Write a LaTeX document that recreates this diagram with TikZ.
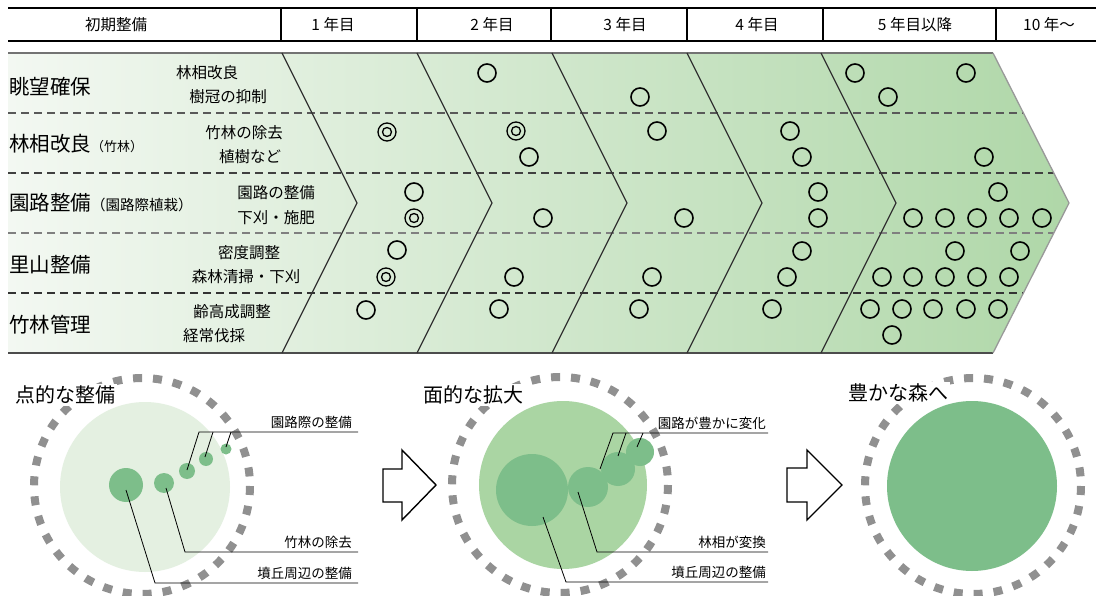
\documentclass[tikz,border=0pt]{standalone}
\usepackage{fontspec}
\setmainfont{Noto Sans CJK JP}
\usetikzlibrary{calc}
\definecolor{gL}{HTML}{F3F8F2}
\definecolor{gR}{HTML}{AFD7A8}
\definecolor{dotg}{HTML}{7DBE8A}
\definecolor{lightg}{HTML}{E4F0E1}
\definecolor{midg}{HTML}{AAD5A3}
\definecolor{dgray}{HTML}{909090}
\tikzset{
  hdr/.style={font=\fontsize{15.5}{18}\selectfont, inner sep=0pt},
  mainlbl/.style={font=\fontsize{20.5}{24}\selectfont, anchor=west, inner sep=0pt},
  sublbl/.style={font=\fontsize{15.5}{18}\selectfont, inner sep=0pt},
  title/.style={font=\fontsize{20}{24}\selectfont, anchor=west, inner sep=2pt, fill=white},
  note/.style={font=\fontsize{13.5}{16}\selectfont, anchor=south east, inner sep=0pt},
  ring/.style={draw=black, line width=1.6pt},
  chev/.style={draw=black!80, line width=1.3pt},
  rowsep/.style={line width=1.1pt, dash pattern=on 8pt off 5pt},
  bigdash/.style={draw=dgray, line width=8pt, dash pattern=on 9pt off 11pt},
  leader/.style={draw=black, line width=0.8pt},
  blockarrow/.style={draw=black, line width=1.4pt, fill=white, line join=miter}
}
\begin{document}
\begin{tikzpicture}[x=1pt, y=-1pt]
\useasboundingbox (0,0) rectangle (1096,596);
\fill[white] (0,0) rectangle (1096,596);

% ---------- header ----------
\draw[line width=2pt] (8,8) -- (1096,8);
\draw[line width=2pt] (8,41) -- (1096,41);
\foreach \x in {281,417,551,687,823,996}
  \draw[line width=1.3pt] (\x,8) -- (\x,41);
\node[hdr] (h0) at (116,25) {初期整備};
\node[hdr] (h1) at (333,25) {1 年目};
\node[hdr] (h2) at (492,25) {2 年目};
\node[hdr] (h3) at (625,25) {3 年目};
\node[hdr] (h4) at (757,25) {4 年目};
\node[hdr] (h5) at (915,25) {5 年目以降};
\node[hdr] (h6) at (1049,25) {10 年～};

% ---------- chevron body ----------
\shade[left color=gL, right color=gR] (8,53) -- (993,53) -- (1069,203) -- (993,353) -- (8,353) -- cycle;
\begin{scope}
  \clip (8,53) -- (993,53) -- (1069,203) -- (993,353) -- (8,353) -- cycle;
  \draw[rowsep, draw=black!65] (8,113) -- (1096,113);
  \draw[rowsep, draw=black!75] (8,173) -- (1096,173);
  \draw[rowsep, draw=black!50] (8,233) -- (1096,233);
  \draw[rowsep, draw=black!80] (8,293) -- (1096,293);
\end{scope}
\draw[draw=black!55, line width=1.3pt] (8,53) -- (993,53);
\draw[draw=black!70, line width=1.6pt] (8,353) -- (993,353);
\draw[draw=black!40, line width=1.3pt] (993,53) -- (1069,203) -- (993,353);
\foreach \x in {282,417,552,687,821}
  \draw[chev] (\x,53) -- (\x+75,203) -- (\x,353);

% left labels
\node[mainlbl] (l1) at (9,87) {眺望確保};
\node[mainlbl] (l2) at (9,144) {林相改良{\fontsize{13}{15}\selectfont （竹林）}};
\node[mainlbl] (l3) at (9,203) {園路整備{\fontsize{14.5}{16}\selectfont （園路際植栽）}};
\node[mainlbl] (l4) at (9,265) {里山整備};
\node[mainlbl] (l5) at (9,325) {竹林管理};

\node[sublbl] (s1) at (207,73) {林相改良};
\node[sublbl] (s2) at (228,97) {樹冠の抑制};
\node[sublbl] (s3) at (244,133) {竹林の除去};
\node[sublbl] (s4) at (250,157) {植樹など};
\node[sublbl] (s5) at (276,193) {園路の整備};
\node[sublbl] (s6) at (276,218) {下刈・施肥};
\node[sublbl] (s7) at (249,253) {密度調整};
\node[sublbl] (s8) at (246,277) {森林清掃・下刈};
\node[sublbl] (s9) at (232,312) {齢高成調整};
\node[sublbl] (s10) at (214,336) {経常伐採};

% single circles
\foreach \x/\y in {414/192, 397/250, 366/310,
  487/73, 529/157, 543/218, 514/277, 499/309,
  640/97, 657/131, 684/218, 652/277, 639/309,
  790/131, 802/157, 818/192, 818/218, 802/251, 787/277, 772/309,
  855/73, 966/73, 888/97, 984/157, 998/192,
  913/218, 945/218, 977/218, 1009/218, 1042/218,
  955/251, 1020/251,
  882/277, 913/277, 945/277, 977/277, 1009/277,
  870/309, 902/309, 933/309, 966/309, 998/309,
  892/335}
  \draw[ring] (\x,\y) circle (9);
% double circles
\foreach \x/\y in {387/132, 414/218, 386/277, 516/131}
  \draw[ring, line width=1.3pt] (\x,\y) circle (9) (\x,\y) circle (4.5);

% ---------- bottom: panel 1 ----------
\draw[bigdash] (142,486) circle (108);
\node[title] (t1) at (13,395) {点的な整備};
\fill[lightg] (145,487) circle (85);
\fill[dotg] (126,485) circle (17);
\fill[dotg] (164,483) circle (10);
\fill[dotg] (187,471) circle (8);
\fill[dotg] (206,459) circle (7);
\fill[dotg] (226,449) circle (5.5);
\coordinate (u1a) at (199,432); \coordinate (u1b) at (358,432);
\draw[leader] (u1b) -- (u1a) -- (187,470);
\draw[leader] (213,432) -- (205,457);
\draw[leader] (231,432) -- (226,447);
\node[note] (n1) at (352,429) {園路際の整備};
\coordinate (u2a) at (185,552); \coordinate (u2b) at (358,552);
\draw[leader] (u2b) -- (u2a) -- (166,488);
\node[note] (n2) at (352,549) {竹林の除去};
\coordinate (u3a) at (155,583); \coordinate (u3b) at (358,583);
\draw[leader] (u3b) -- (u3a) -- (126,490);
\node[note] (n3) at (352,580) {墳丘周辺の整備};

% arrow 1
\draw[blockarrow] (383,469) -- (402,469) -- (402,450) -- (436,485) -- (402,520) -- (402,502) -- (383,502) -- cycle;

% ---------- panel 2 ----------
\draw[bigdash] (560,485) circle (108);
\node[title] (t2) at (421,395) {面的な拡大};
\fill[midg] (563,485) circle (84);
\fill[dotg] (532,490) circle (36);
\fill[dotg] (588,487) circle (20);
\fill[dotg] (618,469) circle (17);
\fill[dotg] (640,452) circle (14);
\coordinate (u4a) at (613,433); \coordinate (u4b) at (768,433);
\draw[leader] (u4b) -- (u4a) -- (600,469);
\draw[leader] (626,433) -- (618,456);
\draw[leader] (643,433) -- (637,447);
\node[note] (n4) at (766,430) {園路が豊かに変化};
\coordinate (u5a) at (597,552); \coordinate (u5b) at (768,552);
\draw[leader] (u5b) -- (u5a) -- (578,492);
\node[note] (n5) at (766,549) {林相が変換};
\coordinate (u6a) at (566,582); \coordinate (u6b) at (768,582);
\draw[leader] (u6b) -- (u6a) -- (543,517);
\node[note] (n6) at (766,579) {墳丘周辺の整備};

% arrow 2
\draw[blockarrow] (787,468) -- (807,468) -- (807,450) -- (842,485) -- (807,520) -- (807,502) -- (787,502) -- cycle;

% ---------- panel 3 ----------
\draw[bigdash] (973,486) circle (108);
\node[title] (t3) at (846,393) {豊かな森へ};
\fill[dotg] (972,486) circle (85);
\end{tikzpicture}
\end{document}
